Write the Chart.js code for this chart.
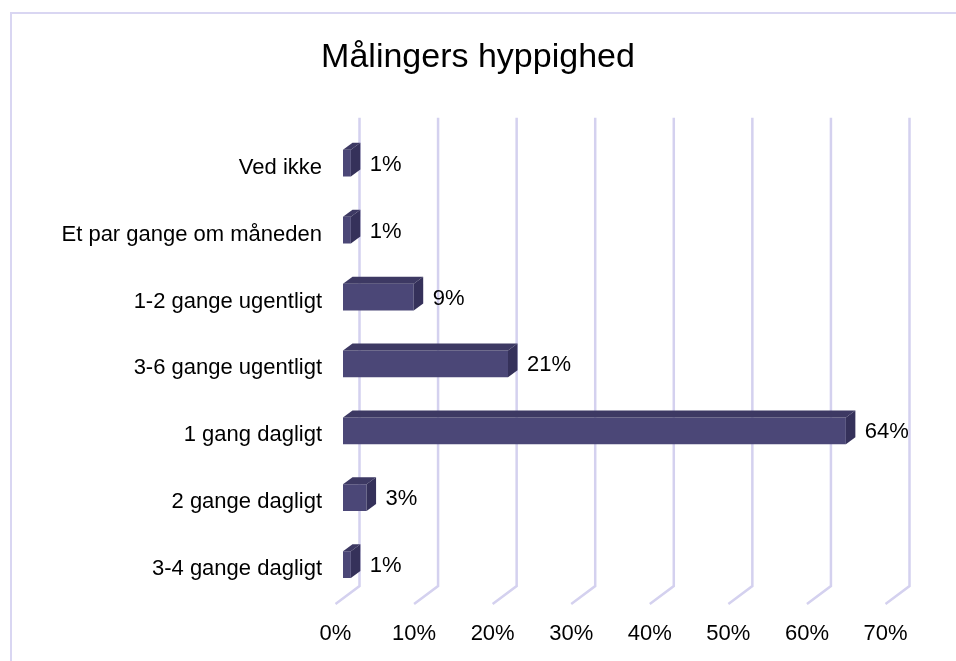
<!DOCTYPE html>
<html>
<head>
<meta charset="utf-8">
<script src="https://cdn.jsdelivr.net/npm/chart.js@4.4.0/dist/chart.umd.min.js"></script>
<style>
body{margin:0;background:#fff}
</style>
</head>
<body>
<canvas id="chart" width="956" height="661"></canvas>
<script>
// data
const categories=["Ved ikke","Et par gange om måneden","1-2 gange ugentligt","3-6 gange ugentligt","1 gang dagligt","2 gange dagligt","3-4 gange dagligt"]
const values=[0.01,0.01,0.09,0.21,0.64,0.03,0.01]
const tickValues=[0,0.1,0.2,0.3,0.4,0.5,0.6,0.7]

const FONT="'Liberation Sans', Arial, sans-serif"
const GRID="#d4d1ef"
const FRONT="#4b4777"
const TOP="#3d3963"
const SIDE="#35315a"

// 3d offsets
const BACK_DX=16.5, BACK_DY=12
const FLOOR_DX=-7.5, FLOOR_DY=6
const BAR_DX=9.5, BAR_DY=7

const frame={
id:"frame",
beforeDraw(chart){
const c=chart.ctx
c.save()
c.strokeStyle="#d9d6f2"
c.lineWidth=2
c.strokeRect(11,13,1000,1000)
c.restore()
}
}

const grid3d={
id:"grid3d",
beforeDatasetsDraw(chart){
const c=chart.ctx
const xs=chart.scales.x
const a=chart.chartArea
c.save()
c.strokeStyle=GRID
c.lineWidth=2.5
tickValues.forEach(v=>{
const px=xs.getPixelForValue(v)
c.beginPath()
c.moveTo(px+BACK_DX,a.top-BACK_DY)
c.lineTo(px+BACK_DX,a.bottom-BACK_DY)
c.lineTo(px+FLOOR_DX,a.bottom+FLOOR_DY)
c.stroke()
})
c.restore()
}
}

const bars3d={
id:"bars3d",
afterDatasetsDraw(chart){
const c=chart.ctx
const meta=chart.getDatasetMeta(0)
c.save()
meta.data.forEach((bar,i)=>{
const top=bar.y-bar.height/2
const bottom=bar.y+bar.height/2
// top face
c.fillStyle=TOP
c.beginPath()
c.moveTo(bar.base,top)
c.lineTo(bar.base+BAR_DX,top-BAR_DY)
c.lineTo(bar.x+BAR_DX,top-BAR_DY)
c.lineTo(bar.x,top)
c.closePath()
c.fill()
// side face
c.fillStyle=SIDE
c.beginPath()
c.moveTo(bar.x,top)
c.lineTo(bar.x+BAR_DX,top-BAR_DY)
c.lineTo(bar.x+BAR_DX,bottom-BAR_DY)
c.lineTo(bar.x,bottom)
c.closePath()
c.fill()
// value label
c.fillStyle="#000"
c.font="22px "+FONT
c.textAlign="left"
c.textBaseline="middle"
c.fillText(Math.round(values[i]*100)+"%",bar.x+19,bar.y+1.5)
})
c.restore()
}
}

new Chart(document.getElementById("chart"),{
type:"bar",
data:{
labels:categories,
datasets:[{
data:values,
backgroundColor:FRONT,
borderWidth:0,
barPercentage:0.4,
categoryPercentage:1
}]
},
options:{
indexAxis:"y",
responsive:false,
animation:false,
layout:{padding:0},
plugins:{
legend:{display:false},
tooltip:{enabled:false},
title:{
display:true,
text:"Målingers hyppighed",
color:"#000",
font:{family:FONT,size:34,weight:"normal",lineHeight:1.2},
padding:{top:37,bottom:52}
}
},
scales:{
x:{
min:0,
max:0.7,
afterBuildTicks(scale){scale.ticks=tickValues.map(v=>({value:v}))},
afterFit(scale){scale.height=63},
grid:{display:false,drawTicks:false},
border:{display:false},
ticks:{
color:"#000",
font:{family:FONT,size:22},
padding:23,
labelOffset:-7.5,
maxRotation:0,
callback:v=>Math.round(v*100)+"%"
}
},
y:{
afterFit(scale){scale.width=343},
grid:{display:false,drawTicks:false},
border:{display:false},
ticks:{
color:"#000",
font:{family:FONT,size:22},
padding:21,
labelOffset:4.5
}
},
// empty right axis keeps space for the 70% label
yRight:{
type:"category",
position:"right",
afterFit(scale){scale.width=63},
grid:{display:false,drawTicks:false},
border:{display:false},
ticks:{display:false}
}
}
},
plugins:[frame,grid3d,bars3d]
})
</script>
</body>
</html>
